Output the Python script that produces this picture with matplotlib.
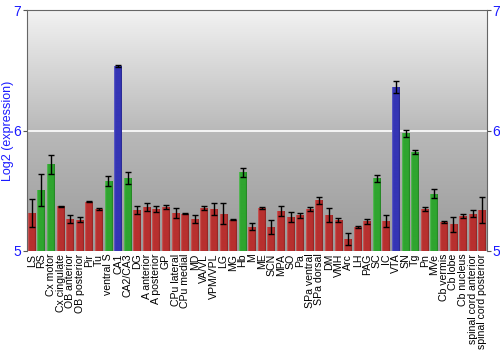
import numpy as np
import matplotlib
matplotlib.use('Agg')
import matplotlib.pyplot as plt
from matplotlib.colors import LinearSegmentedColormap

# Data
regions = ['LS', 'RS', 'Cx motor', 'Cx cingulate', 'OB anterior', 'OB posterior', 'Pir', 'Tu',
           'ventral S', 'CA1', 'CA2/CA3', 'DG', 'A anterior', 'A posterior', 'GP', 'CPu lateral',
           'CPu medial', 'MD', 'VA/VL', 'VPM/VPL', 'LG', 'MG', 'Hb', 'M', 'ME', 'SCN', 'MPA', 'SO',
           'Pa', 'SPa ventral', 'SPa dorsal', 'DM', 'VMH', 'Arc', 'LH', 'PAG', 'SC', 'IC', 'VTA',
           'SN', 'Tg', 'Pn', 'MVe', 'Cb vermis', 'Cb lobe', 'Cb nucleus',
           'spinal cord anterior', 'spinal cord posterior']
values = [5.315, 5.506, 5.72, 5.37, 5.265, 5.26, 5.41, 5.35,
          5.58, 6.535, 5.605, 5.34, 5.365, 5.35, 5.365, 5.315,
          5.31, 5.265, 5.357, 5.345, 5.31, 5.26, 5.653, 5.20, 5.357, 5.20, 5.33, 5.28,
          5.295, 5.348, 5.42, 5.30, 5.257, 5.097, 5.197, 5.247, 5.603, 5.249, 6.36,
          5.976, 5.82, 5.35, 5.476, 5.238, 5.22, 5.29,
          5.31, 5.34]
errors = [0.12, 0.13, 0.08, 0.005, 0.03, 0.02, 0.005, 0.01,
          0.04, 0.01, 0.05, 0.03, 0.03, 0.025, 0.015, 0.04,
          0.005, 0.03, 0.02, 0.05, 0.09, 0.005, 0.04, 0.03, 0.01, 0.06, 0.04, 0.04,
          0.02, 0.015, 0.03, 0.06, 0.015, 0.05, 0.01, 0.02, 0.03, 0.05, 0.05,
          0.03, 0.015, 0.015, 0.04, 0.01, 0.06, 0.02,
          0.03, 0.11]
groups = ['r', 'g', 'g', 'r', 'r', 'r', 'r', 'r',
          'g', 'b', 'g', 'r', 'r', 'r', 'r', 'r',
          'r', 'r', 'r', 'r', 'r', 'r', 'g', 'r', 'r', 'r', 'r', 'r',
          'r', 'r', 'r', 'r', 'r', 'r', 'r', 'r', 'g', 'r', 'b',
          'g', 'g', 'r', 'g', 'r', 'r', 'r',
          'r', 'r']

palette = {'r': '#b8302f', 'g': '#2fa52f', 'b': '#3535b5'}
blue_txt = '#1a1aff'

plt.rcParams['font.family'] = ['Liberation Sans', 'DejaVu Sans']

fig = plt.figure(figsize=(5, 3.5), dpi=100)
ax = fig.add_axes([0.054, 0.283, 0.92, 0.688])

x = np.arange(len(regions))
ymin, ymax = 5, 7

# gradient background
bg = LinearSegmentedColormap.from_list('bg', ['#9a9a9a', '#b9b9b9', '#f2f2f2'])
grad = np.linspace(0, 1, 256).reshape(-1, 1)
ax.imshow(grad, cmap=bg, origin='lower', aspect='auto',
          extent=[-0.5, len(regions) - 0.5, ymin, ymax], zorder=0)
ax.axhline(6, color='white', lw=1.2, zorder=1)

bars = ax.bar(x, np.array(values) - ymin, bottom=ymin, width=0.82,
              color=[palette[g] for g in groups], zorder=2)
# subtle shading on the bars
for b, g in zip(bars, groups):
    shade = LinearSegmentedColormap.from_list('s', ['#ffffff', palette[g], palette[g], '#000000'])
    img = ax.imshow(np.linspace(0.25, 0.75, 32).reshape(1, -1), cmap=shade, vmin=0, vmax=1,
                    aspect='auto', extent=[b.get_x(), b.get_x() + b.get_width(), ymin, b.get_height() + ymin],
                    zorder=2.5)
    img.set_clip_path(b)

ax.errorbar(x, values, yerr=errors, fmt='none', ecolor='black', elinewidth=1,
            capsize=2, capthick=1, zorder=3)

ax.set_xlim(-0.5, len(regions) - 0.5)
ax.set_ylim(ymin, ymax)
ax.set_xticks(x)
ax.set_xticklabels(regions, rotation=90, fontsize=7.6)
ax.tick_params(axis='x', length=0, pad=2)
ax.set_yticks([5, 6, 7])
ax.tick_params(axis='y', colors='#555555', labelcolor=blue_txt, labelsize=10,
               length=3, right=True, labelright=True, pad=1)
ax.set_ylabel('Log2 (expression)', color=blue_txt, fontsize=9)
ax.yaxis.set_label_coords(-0.028, 0.5)

for side in ['left', 'right', 'top']:
    ax.spines[side].set_color('#666666')
ax.spines['bottom'].set_visible(False)

fig.savefig('out.png', dpi=100)
